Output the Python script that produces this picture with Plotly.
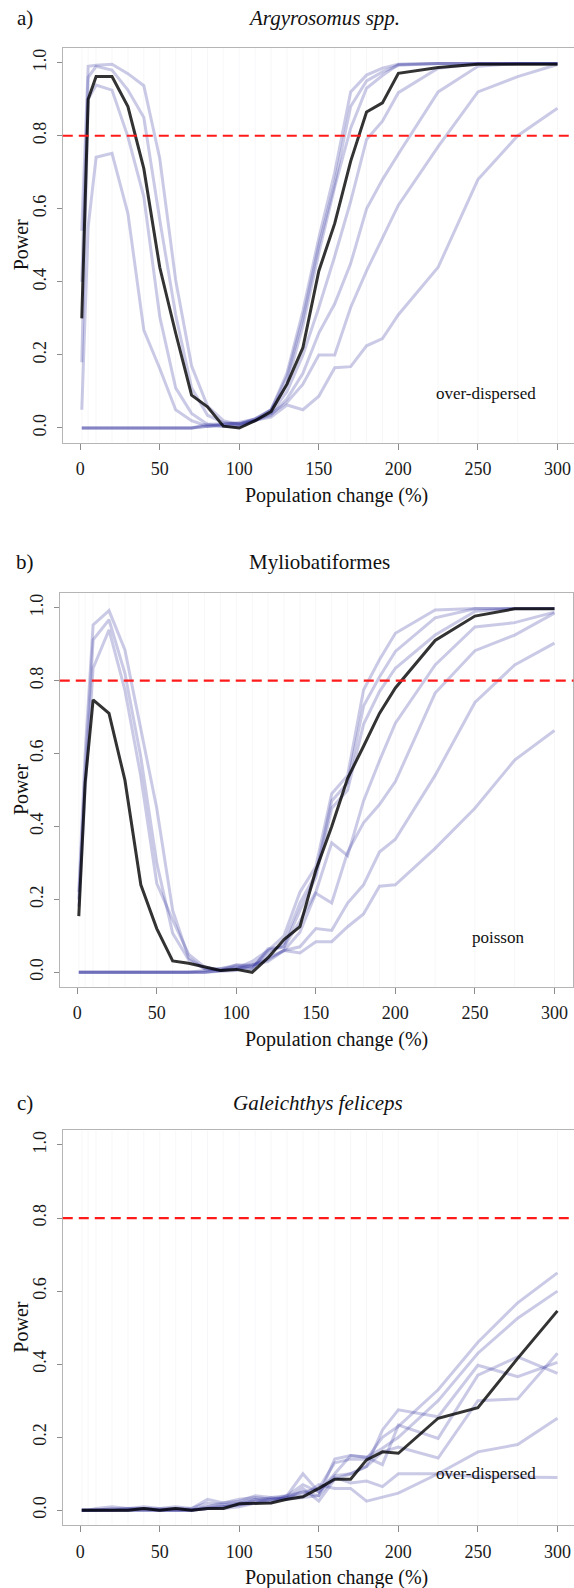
import plotly.graph_objects as go

# Population change scenarios (%)
pop_change = [1, 5, 10, 20, 30, 40, 50, 60, 70, 80, 90, 100, 110, 120, 130, 140,
              150, 160, 170, 180, 190, 200, 225, 250, 275, 300]
x_ticks = [0, 50, 100, 150, 200, 250, 300]
y_ticks = [0.0, 0.2, 0.4, 0.6, 0.8, 1.0]
power_threshold = 0.8

# a) Argyrosomus spp. (over-dispersed)
argy_mean = [0.30, 0.90, 0.962, 0.962, 0.88, 0.71, 0.44, 0.26, 0.09, 0.058, 0.005, 0.0, 0.02,
             0.045, 0.12, 0.22, 0.43, 0.56, 0.73, 0.865, 0.89, 0.971, 0.987, 0.996, 0.996, 0.996]
argy_runs = [
    [0.54, 0.99, 0.993, 0.996, 0.97, 0.937, 0.738, 0.405, 0.17, 0.06, 0.02, 0.01, 0.02,
     0.05, 0.15, 0.32, 0.52, 0.70, 0.92, 0.966, 0.985, 0.996, 0.998, 0.998, 0.998, 0.998],
    [0.40, 0.96, 0.99, 0.98, 0.925, 0.85, 0.57, 0.31, 0.11, 0.035, 0.015, 0.01, 0.025,
     0.05, 0.12, 0.28, 0.48, 0.66, 0.82, 0.93, 0.965, 0.995, 0.998, 0.998, 0.998, 0.998],
    [0.18, 0.90, 0.939, 0.925, 0.797, 0.633, 0.305, 0.11, 0.04, 0.01, 0.005, 0.005, 0.02,
     0.04, 0.10, 0.20, 0.33, 0.47, 0.62, 0.79, 0.84, 0.918, 0.985, 0.998, 0.998, 0.998],
    [0.05, 0.55, 0.741, 0.752, 0.587, 0.268, 0.163, 0.05, 0.02, 0.005, 0.005, 0.005, 0.02,
     0.035, 0.08, 0.15, 0.26, 0.34, 0.45, 0.60, 0.68, 0.75, 0.92, 0.99, 0.998, 0.998],
    [0.0, 0.0, 0.0, 0.0, 0.0, 0.0, 0.0, 0.0, 0.0, 0.01, 0.012, 0.012, 0.025,
     0.05, 0.14, 0.30, 0.50, 0.67, 0.88, 0.95, 0.975, 0.993, 0.998, 0.998, 0.998, 0.998],
    [0.0, 0.0, 0.0, 0.0, 0.0, 0.0, 0.0, 0.0, 0.0, 0.005, 0.01, 0.015, 0.025,
     0.04, 0.07, 0.12, 0.20, 0.20, 0.33, 0.43, 0.52, 0.61, 0.77, 0.92, 0.962, 0.995],
    [0.0, 0.0, 0.0, 0.0, 0.0, 0.0, 0.0, 0.0, 0.0, 0.005, 0.01, 0.012, 0.02,
     0.03, 0.063, 0.05, 0.087, 0.165, 0.168, 0.225, 0.245, 0.31, 0.44, 0.68, 0.80, 0.875],
]

# b) Myliobatiformes (poisson)
mylio_mean = [0.154, 0.52, 0.747, 0.71, 0.527, 0.24, 0.12, 0.031, 0.025, 0.015, 0.005, 0.008, 0.0,
              0.04, 0.09, 0.125, 0.28, 0.40, 0.532, 0.62, 0.71, 0.78, 0.91, 0.977, 0.997, 0.997]
mylio_runs = [
    [0.22, 0.60, 0.953, 0.992, 0.884, 0.665, 0.45, 0.17, 0.04, 0.01, 0.005, 0.01, 0.01,
     0.06, 0.10, 0.22, 0.29, 0.49, 0.54, 0.774, 0.857, 0.93, 0.994, 0.998, 0.998, 0.998],
    [0.20, 0.55, 0.912, 0.967, 0.82, 0.59, 0.30, 0.107, 0.035, 0.01, 0.01, 0.02, 0.02,
     0.05, 0.08, 0.19, 0.27, 0.47, 0.52, 0.73, 0.81, 0.88, 0.972, 0.997, 0.998, 0.998],
    [0.18, 0.50, 0.834, 0.939, 0.774, 0.537, 0.244, 0.144, 0.05, 0.015, 0.005, 0.01, 0.03,
     0.06, 0.07, 0.17, 0.26, 0.45, 0.50, 0.68, 0.77, 0.834, 0.925, 0.99, 0.998, 0.998],
    [0.0, 0.0, 0.0, 0.0, 0.0, 0.0, 0.0, 0.0, 0.0, 0.005, 0.01, 0.015, 0.01,
     0.065, 0.07, 0.14, 0.22, 0.355, 0.32, 0.47, 0.58, 0.683, 0.843, 0.947, 0.959, 0.988],
    [0.0, 0.0, 0.0, 0.0, 0.0, 0.0, 0.0, 0.0, 0.0, 0.0, 0.005, 0.02, 0.015,
     0.04, 0.06, 0.11, 0.217, 0.19, 0.33, 0.41, 0.46, 0.523, 0.766, 0.882, 0.925, 0.985],
    [0.0, 0.0, 0.0, 0.0, 0.0, 0.0, 0.0, 0.0, 0.0, 0.0, 0.005, 0.01, 0.02,
     0.03, 0.06, 0.07, 0.12, 0.115, 0.19, 0.24, 0.33, 0.365, 0.54, 0.74, 0.843, 0.903],
    [0.0, 0.0, 0.0, 0.0, 0.0, 0.0, 0.0, 0.0, 0.0, 0.0, 0.003, 0.005, 0.02,
     0.035, 0.06, 0.053, 0.084, 0.084, 0.125, 0.16, 0.236, 0.24, 0.34, 0.45, 0.582, 0.663],
]

# c) Galeichthys feliceps (over-dispersed)
galei_mean = [0.0, 0.0, 0.0, 0.0, 0.0, 0.005, 0.0, 0.005, 0.0, 0.005, 0.005, 0.018, 0.02,
              0.02, 0.03, 0.037, 0.06, 0.085, 0.085, 0.138, 0.16, 0.156, 0.252, 0.281, 0.416, 0.546]
galei_runs = [
    [0.0, 0.0, 0.005, 0.01, 0.005, 0.01, 0.005, 0.005, 0.005, 0.02, 0.015, 0.02, 0.03,
     0.03, 0.035, 0.05, 0.06, 0.13, 0.14, 0.14, 0.20, 0.23, 0.33, 0.46, 0.568, 0.65],
    [0.0, 0.0, 0.0, 0.005, 0.005, 0.005, 0.005, 0.01, 0.005, 0.03, 0.02, 0.025, 0.04,
     0.035, 0.04, 0.07, 0.05, 0.10, 0.15, 0.145, 0.17, 0.20, 0.30, 0.43, 0.526, 0.60],
    [0.0, 0.0, 0.0, 0.0, 0.005, 0.005, 0.0, 0.005, 0.0, 0.01, 0.02, 0.03, 0.035,
     0.03, 0.04, 0.10, 0.05, 0.095, 0.10, 0.12, 0.22, 0.275, 0.256, 0.397, 0.366, 0.405],
    [0.0, 0.0, 0.0, 0.0, 0.0, 0.0, 0.0, 0.0, 0.0, 0.01, 0.01, 0.02, 0.025,
     0.035, 0.03, 0.06, 0.025, 0.085, 0.10, 0.12, 0.16, 0.173, 0.143, 0.30, 0.305, 0.43],
    [0.0, 0.0, 0.0, 0.0, 0.0, 0.005, 0.0, 0.0, 0.0, 0.005, 0.01, 0.015, 0.03,
     0.02, 0.04, 0.05, 0.04, 0.14, 0.15, 0.145, 0.125, 0.233, 0.197, 0.37, 0.42, 0.375],
    [0.0, 0.0, 0.0, 0.0, 0.0, 0.0, 0.0, 0.0, 0.0, 0.005, 0.005, 0.01, 0.02,
     0.025, 0.035, 0.04, 0.07, 0.06, 0.06, 0.025, 0.035, 0.047, 0.10, 0.16, 0.18, 0.252],
    [0.0, 0.0, 0.0, 0.0, 0.0, 0.0, 0.0, 0.0, 0.0, 0.005, 0.01, 0.015, 0.02,
     0.03, 0.03, 0.035, 0.04, 0.09, 0.075, 0.08, 0.065, 0.10, 0.10, 0.092, 0.09, 0.09],
]

W, H = 574, 1588
SERIF = "Liberation Serif, Times New Roman, serif"
RUN_COLOR = "rgba(45,45,155,0.25)"
MEAN_COLOR = "rgba(0,0,0,0.8)"
AXIS_GREY = "#b5b5b5"
X_LIM = [-10.96, 311.96]
Y_LIM = [-0.04, 1.04]

# pixel geometry of each panel: origin of the data axes and scale (px per unit)
panels = [
    dict(tag="a)", title="<i>Argyrosomus spp.</i>", note="over-dispersed",
         mean=argy_mean, runs=argy_runs, x0=80.2, y0=428.0, ys=365.3,
         title_x=324, title_y=18, tick_y=None, note_xy=(486, 393), right_box=False),
    dict(tag="b)", title="Myliobatiformes", note="poisson",
         mean=mylio_mean, runs=mylio_runs, x0=77.2, y0=972.3, ys=364.6,
         title_x=319, title_y=562, note_xy=(498, 938), right_box=True),
    dict(tag="c)", title="<i>Galeichthys feliceps</i>", note="over-dispersed",
         mean=galei_mean, runs=galei_runs, x0=80.2, y0=1510.3, ys=365.3,
         title_x=318, title_y=1103, note_xy=(486, 1473), right_box=False),
]
XS = 1.5908

fig = go.Figure()
annotations = []
shapes = []


def px(xp):
    return xp / W


def py(yp):
    return 1 - yp / H


for i, p in enumerate(panels):
    n = "" if i == 0 else str(i + 1)
    xa, ya = "x" + n, "y" + n

    left = p["x0"] + X_LIM[0] * XS
    right = p["x0"] + X_LIM[1] * XS
    x_hi = X_LIM[1]
    if right > W:
        x_hi = (W - p["x0"]) / XS
        right = W
    top = p["y0"] - Y_LIM[1] * p["ys"]
    bottom = p["y0"] - Y_LIM[0] * p["ys"]

    axis_font = dict(family=SERIF, size=18, color="#1a1a1a")
    fig.layout["xaxis" + n] = dict(
        domain=[px(left), px(right)], range=[X_LIM[0], x_hi], anchor=ya,
        showline=True, linecolor=AXIS_GREY, linewidth=1, mirror=True,
        ticks="outside", ticklen=6, tickcolor="#8c8c8c", tickvals=x_ticks,
        tickfont=axis_font, showgrid=False, zeroline=False, ticklabelstandoff=4,
        fixedrange=True)
    fig.layout["yaxis" + n] = dict(
        domain=[py(bottom), py(top)], range=Y_LIM, anchor=xa,
        showline=True, linecolor=AXIS_GREY, linewidth=1, mirror=p["right_box"],
        ticks="outside", ticklen=5, tickcolor="#8c8c8c", tickvals=y_ticks,
        tickformat=".1f", tickangle=-90, tickfont=axis_font, showgrid=False,
        zeroline=False, ticklabelstandoff=4, fixedrange=True)

    # faint vertical guides at each simulated population change
    gx, gy = [], []
    for v in pop_change:
        gx += [v, v, None]
        gy += [Y_LIM[0], Y_LIM[1], None]
    fig.add_trace(go.Scatter(x=gx, y=gy, xaxis=xa, yaxis=ya, mode="lines",
                             line=dict(color="rgba(120,120,150,0.06)", width=1),
                             hoverinfo="skip"))

    for run in p["runs"]:
        fig.add_trace(go.Scatter(x=pop_change, y=run, xaxis=xa, yaxis=ya, mode="lines",
                                 line=dict(color=RUN_COLOR, width=3)))
    fig.add_trace(go.Scatter(x=pop_change, y=p["mean"], xaxis=xa, yaxis=ya, mode="lines",
                             line=dict(color=MEAN_COLOR, width=3)))

    shapes.append(dict(type="line", xref=xa + " domain", yref=ya, x0=0, x1=1,
                       y0=power_threshold, y1=power_threshold,
                       line=dict(color="#ff1a1a", width=2.2, dash="10px,6px")))

    # panel texts
    annotations += [
        dict(text=p["tag"], x=px(25), y=py(p["title_y"]), showarrow=False,
             font=dict(family=SERIF, size=21, color="#111")),
        dict(text=p["title"], x=px(p["title_x"]), y=py(p["title_y"]), showarrow=False,
             font=dict(family=SERIF, size=21, color="#111")),
        dict(text="Power", x=px(21), y=py((top + bottom) / 2), showarrow=False,
             textangle=-90, font=dict(family=SERIF, size=20, color="#111")),
        dict(text="Population change (%)", x=px(336), y=py(bottom + 53), showarrow=False,
             font=dict(family=SERIF, size=20, color="#111")),
        dict(text=p["note"], x=px(p["note_xy"][0]), y=py(p["note_xy"][1]), showarrow=False,
             font=dict(family=SERIF, size=17, color="#111")),
    ]

for a in annotations:
    a.update(xref="paper", yref="paper", xanchor="center", yanchor="middle")

fig.update_layout(
    width=W, height=H, margin=dict(l=0, r=0, t=0, b=0),
    paper_bgcolor="white", plot_bgcolor="white", showlegend=False,
    annotations=annotations, shapes=shapes,
)

fig.write_html("out.html", config={"displayModeBar": False})
